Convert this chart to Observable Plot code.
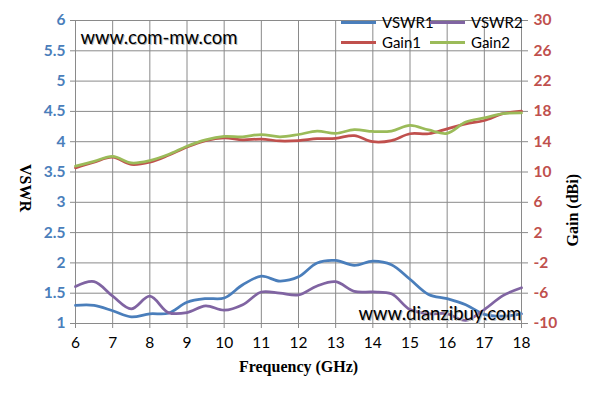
<!DOCTYPE html>
<html>
<head>
<meta charset="utf-8">
<script src="https://cdn.jsdelivr.net/npm/d3@7"></script>
<script src="https://cdn.jsdelivr.net/npm/@observablehq/plot@0.6"></script>
<style>
  html, body { margin: 0; padding: 0; background: #fff; }
  #wrap { position: relative; width: 595px; height: 404px; }
  .leg { position: absolute; font: 15px Lato, "Liberation Sans", sans-serif; color: #000; display: flex; align-items: center; }
  .leg span.sw { display: inline-block; width: 35px; height: 3px; margin-right: 6px; }
</style>
</head>
<body>
<div id="wrap"></div>
<script>
// ---- data ----
const freq = [6, 6.5, 7, 7.5, 8, 8.5, 9, 9.5, 10, 10.5, 11, 11.5, 12, 12.5, 13, 13.5, 14, 14.5, 15, 15.5, 16, 16.5, 17, 17.5, 18];
const vswr1 = [1.30, 1.30, 1.21, 1.11, 1.16, 1.17, 1.35, 1.41, 1.42, 1.64, 1.78, 1.70, 1.77, 2.00, 2.04, 1.96, 2.03, 1.97, 1.73, 1.48, 1.41, 1.31, 1.15, 1.12, 1.16];
const vswr2 = [1.61, 1.69, 1.45, 1.24, 1.45, 1.18, 1.18, 1.29, 1.22, 1.31, 1.52, 1.50, 1.47, 1.62, 1.69, 1.53, 1.52, 1.49, 1.23, 1.16, 1.16, 1.05, 1.23, 1.46, 1.59];
const gain1 = [10.55, 11.3, 11.95, 11.0, 11.3, 12.2, 13.3, 14.15, 14.5, 14.25, 14.35, 14.1, 14.15, 14.4, 14.45, 14.8, 14.0, 14.15, 15.05, 15.05, 15.7, 16.35, 16.8, 17.7, 18.05];
const gain2 = [10.77, 11.4, 12.05, 11.2, 11.5, 12.3, 13.4, 14.25, 14.7, 14.65, 14.95, 14.65, 14.95, 15.4, 15.1, 15.6, 15.35, 15.4, 16.15, 15.55, 15.1, 16.6, 17.15, 17.7, 17.8];

const xTicks = [6, 7, 8, 9, 10, 11, 12, 13, 14, 15, 16, 17, 18];
const vswrTicks = [1, 1.5, 2, 2.5, 3, 3.5, 4, 4.5, 5, 5.5, 6];
const gainTicks = [-10, -6, -2, 2, 6, 10, 14, 18, 22, 26, 30];

const seriesNames = ["VSWR1", "VSWR2", "Gain1", "Gain2"];
const seriesColors = ["#4A7EBB", "#8064A2", "#C0504D", "#9BBB59"];

// gain axis (right) is mapped onto the VSWR scale: -10..30 dBi <-> 1..6
const gainToV = g => 1 + (g + 10) / 8;
const vToGain = v => Math.round((v - 1) * 8 - 10);

const rows = [];
const addSeries = (name, vals, conv) => vals.forEach((v, i) => rows.push({series: name, f: freq[i], v: conv(v)}));
addSeries("VSWR1", vswr1, d => d);
addSeries("VSWR2", vswr2, d => d);
addSeries("Gain1", gain1, gainToV);
addSeries("Gain2", gain2, gainToV);

const grid = "#8a8a8a";
const axisFont = "Lato, 'Liberation Sans', sans-serif";
const titleFont = "'Liberation Serif', 'DejaVu Serif', serif";

const chart = Plot.plot({
  width: 595,
  height: 404,
  marginTop: 20,
  marginBottom: 81,
  marginLeft: 75,
  marginRight: 74,
  style: {background: "#fff", overflow: "visible"},
  x: {domain: [6, 18]},
  y: {domain: [1, 6]},
  color: {domain: seriesNames, range: seriesColors},
  marks: [
    Plot.gridX(xTicks, {stroke: grid, strokeOpacity: 1, strokeWidth: 1}),
    Plot.gridY(vswrTicks, {stroke: grid, strokeOpacity: 1, strokeWidth: 1}),
    Plot.axisX(xTicks, {tickSize: 5, stroke: grid, fill: "#000", fontSize: 15.5, fontFamily: axisFont, tickPadding: 8, label: null}),
    Plot.axisY(vswrTicks, {anchor: "left", tickSize: 5, stroke: grid, fill: "#4A7EBB", fontSize: 15.5, fontWeight: "bold", fontFamily: axisFont, tickPadding: 5, tickFormat: d => String(d), label: null}),
    Plot.axisY(vswrTicks, {anchor: "right", tickSize: 6, stroke: grid, fill: "#C0504D", fontSize: 15.5, fontWeight: "bold", fontFamily: axisFont, tickPadding: 6, tickFormat: vToGain, label: null}),
    Plot.line(rows, {x: "f", y: "v", z: "series", stroke: "series", strokeWidth: 2.75, curve: "catmull-rom"}),
    // watermarks
    Plot.text(["www.com-mw.com"], {frameAnchor: "top-left", dx: 6, dy: 11, text: d => d, fill: "#bbb", fontSize: 18.5, fontFamily: axisFont, textAnchor: "start"}),
    Plot.text(["www.com-mw.com"], {frameAnchor: "top-left", dx: 5, dy: 10, text: d => d, fill: "#000", fontSize: 18.5, fontFamily: axisFont, textAnchor: "start"}),
    Plot.text(["www.dianzibuy.com"], {frameAnchor: "bottom-right", dx: 1, dy: -3, text: d => d, fill: "#bbb", fontSize: 18.5, fontFamily: axisFont, textAnchor: "end"}),
    Plot.text(["www.dianzibuy.com"], {frameAnchor: "bottom-right", dx: 0, dy: -4, text: d => d, fill: "#000", fontSize: 18.5, fontFamily: axisFont, textAnchor: "end"}),
    // axis titles
    Plot.text(["VSWR"], {frameAnchor: "left", dx: -50, dy: -8, rotate: 90, text: d => d, fontSize: 16, fontWeight: "bold", fontFamily: titleFont, fill: "#000"}),
    Plot.text(["Gain (dBi)"], {frameAnchor: "right", dx: 51, dy: 2, rotate: -90, text: d => d, fontSize: 16, fontWeight: "bold", fontFamily: titleFont, fill: "#000"}),
    Plot.text(["Frequency (GHz)"], {frameAnchor: "bottom", dy: 48, text: d => d, fontSize: 16, fontWeight: "bold", fontFamily: titleFont, fill: "#000"})
  ]
});

const wrap = document.getElementById("wrap");
wrap.appendChild(chart);

// legend (inside plot area, top right)
const legendPos = [[341, 22], [430, 22], [341, 42], [430, 42]];
seriesNames.forEach((name, i) => {
  const d = document.createElement("div");
  d.className = "leg";
  d.style.left = legendPos[i][0] + "px";
  d.style.top = (legendPos[i][1] - 10) + "px";
  d.style.height = "20px";
  d.innerHTML = `<span class="sw" style="background:${seriesColors[i]}"></span>${name}`;
  wrap.appendChild(d);
});
</script>
</body>
</html>
